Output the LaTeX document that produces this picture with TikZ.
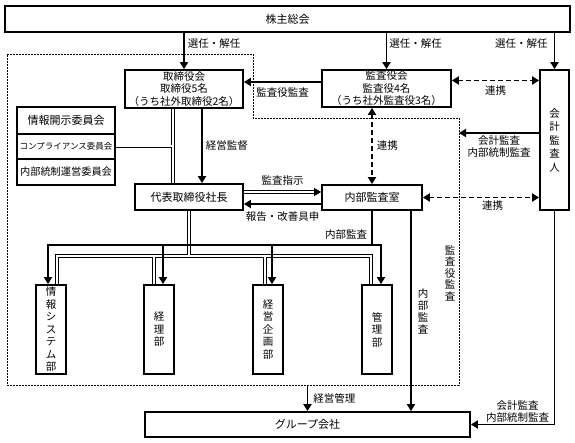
\documentclass[tikz,border=0pt]{standalone}
\usepackage{fontspec}
\setmainfont{Noto Sans CJK JP}
\usetikzlibrary{positioning, arrows.meta}

\begin{document}
\begin{tikzpicture}[
        x=1pt, y=-1pt,
        % Boxes of the organisation
        unit/.style={
            rectangle, draw=black, line width=1.7pt,
            fill=white, inner sep=1pt, align=center,
            font=\fontsize{11}{12.5}\selectfont
        },
        % Tall department boxes (text set top to bottom)
        dept/.style={
            unit, minimum width=30pt, minimum height=89pt,
            font=\fontsize{10.5}{12.5}\selectfont
        },
        % Committee boxes
        cmte/.style={
            unit, minimum width=98pt
        },
        % Solid arrow
        flow/.style={
            draw=black, line width=1.7pt,
            -{Triangle[length=7pt, width=8pt]}
        },
        % Dashed link, tips at both ends
        tie/.style={
            draw=black, line width=1.9pt, dash pattern=on 5pt off 3pt,
            {Triangle[length=7pt, width=8pt]}-{Triangle[length=7pt, width=8pt]}
        },
        % Double line
        dbl/.style={
            draw=black, line width=0.8pt, double=white, double distance=2pt
        },
        % Area under the auditors' audit
        zone/.style={
            draw=black, line width=0.8pt, dash pattern=on 2pt off 1pt
        },
        lbl/.style={inner sep=1pt, align=center, font=\fontsize{10.5}{12}\selectfont}
    ]
        \useasboundingbox (0,0) rectangle (575,443);

        % Dashed area
        \coordinate (z1) at (7,54);
        \coordinate (z2) at (253,54);
        \coordinate (z3) at (253,118);
        \coordinate (z4) at (459,118);
        \coordinate (z5) at (459,385);
        \coordinate (z6) at (7,385);
        \draw[zone] (z1) -- (z2) -- (z3) -- (z4) -- (z5) -- (z6) -- cycle;

        % Nodes
        \node[unit, minimum width=565pt, minimum height=26pt] (meeting) at (287.5,19) {株主総会};
        \node[unit, minimum width=118pt, minimum height=38pt, font=\fontsize{10.5}{12.5}\selectfont] (board) at (184,89)
            {取締役会\\取締役5名\\（うち社外取締役2名）};
        \node[unit, minimum width=129pt, minimum height=37pt, font=\fontsize{10.5}{12.5}\selectfont] (auditors) at (386.5,88.5)
            {監査役会\\監査役4名\\（うち社外監査役3名）};
        \node[unit, minimum width=29pt, minimum height=140pt, font=\fontsize{10.5}{13.5}\selectfont] (accountant) at (554.5,140)
            {会\\計\\監\\査\\人};

        \node[cmte, minimum height=27pt, font=\fontsize{11}{12}\selectfont] (disclosure) at (66,120.5) {情報開示委員会};
        \node[cmte, minimum height=25pt, font=\fontsize{8.5}{10}\selectfont] (compliance) at (66,146.5) {コンプライアンス委員会};
        \node[cmte, minimum height=26pt, font=\fontsize{10.2}{12}\selectfont] (control) at (66,172) {内部統制運営委員会};

        \node[unit, minimum width=108pt, minimum height=26pt] (president) at (189,197) {代表取締役社長};
        \node[unit, minimum width=100pt, minimum height=25pt] (internal) at (372,197.5) {内部監査室};

        \node[dept] (infosys) at (51,329.5) {情\\報\\シ\\ス\\テ\\ム\\部};
        \node[dept] (accounting) at (159,329.5) {経\\理\\部};
        \node[dept] (planning) at (268,329.5) {経\\営\\企\\画\\部};
        \node[dept] (admin) at (377,329.5) {管\\理\\部};

        \node[unit, minimum width=325pt, minimum height=25pt] (group) at (307.5,424.5) {グループ会社};

        \node[lbl, font=\fontsize{10.5}{11.5}\selectfont] (zonelabel) at (450,273) {監\\査\\役\\監\\査};

        % Election and dismissal
        \draw[flow] (meeting.south -| board.north) -- node[lbl, right=2pt, pos=0.3] {選任・解任} (board.north);
        \draw[flow] (meeting.south -| auditors.north) -- node[lbl, right=1pt, pos=0.3] {選任・解任} (auditors.north);
        \draw[flow] (meeting.south -| accountant.north) -- node[lbl, left=5pt, pos=0.3] {選任・解任} (accountant.north);

        % Audits and cooperation
        \coordinate (audit) at ([yshift=6.5pt]auditors.west);
        \coordinate (coop) at ([yshift=8pt]auditors.east);
        \coordinate (acct) at ([yshift=7pt]accountant.west);
        \draw[flow] (audit) -- node[lbl, below=4pt] {監査役監査} (audit -| board.east);
        \draw[tie] (coop) -- node[lbl, below=3pt] {連携} (coop -| accountant.west);
        \draw[tie] (auditors.south -| internal.north) -- node[lbl, right=3pt] {連携} (internal.north);
        \draw[flow] (acct) -- node[lbl, below=1pt] {会計監査\\内部統制監査} (acct -| z4);
        \draw[tie] (internal.east) -- node[lbl, below=1pt, pos=0.6] {連携} (internal.east -| accountant.west);

        % Board and president
        \coordinate (trunk) at ([xshift=-11pt]board.south);
        \coordinate (steer) at ([xshift=18pt]board.south);
        \draw[dbl] (trunk) -- (trunk |- president.north)
                   (compliance.east) -- (compliance.east -| trunk);
        \draw[flow] (steer) -- node[lbl, right=2pt] {経営監督} (steer |- president.north);

        % President and internal audit office
        \coordinate (order) at ([yshift=5pt]president.east);
        \coordinate (report) at ([yshift=-7pt]president.east);
        \draw[dbl, -{Triangle[length=7pt, width=8pt]}] (order) -- node[lbl, above=5pt] {監査指示} (order -| internal.west);
        \draw[flow] (report -| internal.west) -- node[lbl, below=6pt] {報告・改善具申} (report);

        % Departments
        \coordinate (mgtbus) at ([yshift=28pt]infosys.north);
        \coordinate (auditbus) at ([yshift=39pt]infosys.north);
        \draw[dbl] (president.south) -- (president.south |- mgtbus)
            ([xshift=6pt]infosys.north) -- ++(0,-28) -- ([xshift=-6pt, yshift=28pt]admin.north) -- ++(0,28)
            ([xshift=-5pt]accounting.north) -- ++(0,-28)
            ([xshift=-3pt]planning.north) -- ++(0,-28);
        \draw[line width=1.7pt] (internal.south) -- node[lbl, left=3pt, pos=0.7] {内部監査} (internal.south |- auditbus);
        \draw[line width=1.7pt, line cap=rect] ([xshift=-3pt, yshift=39pt]infosys.north) -- ([xshift=4pt, yshift=39pt]admin.north);
        \draw[flow] ([xshift=-3pt, yshift=39pt]infosys.north) -- ([xshift=-3pt]infosys.north);
        \draw[flow] ([xshift=4pt, yshift=39pt]accounting.north) -- ([xshift=4pt]accounting.north);
        \draw[flow] ([xshift=4pt, yshift=39pt]planning.north) -- ([xshift=4pt]planning.north);
        \draw[flow] ([xshift=4pt, yshift=39pt]admin.north) -- ([xshift=4pt]admin.north);

        % Group companies
        \coordinate (iadrop) at ([xshift=39pt]internal.south);
        \draw[flow] (z6 -| group.north) -- node[lbl, right=4pt] {経営管理} (group.north);
        \draw[flow] (iadrop) -- node[lbl, right=5pt] {内\\部\\監\\査} (iadrop |- group.north);
        \draw[flow] (accountant.south) |- node[lbl, above=0pt, pos=0.72] {会計監査\\内部統制監査} (group.east);

    \end{tikzpicture}
\end{document}
